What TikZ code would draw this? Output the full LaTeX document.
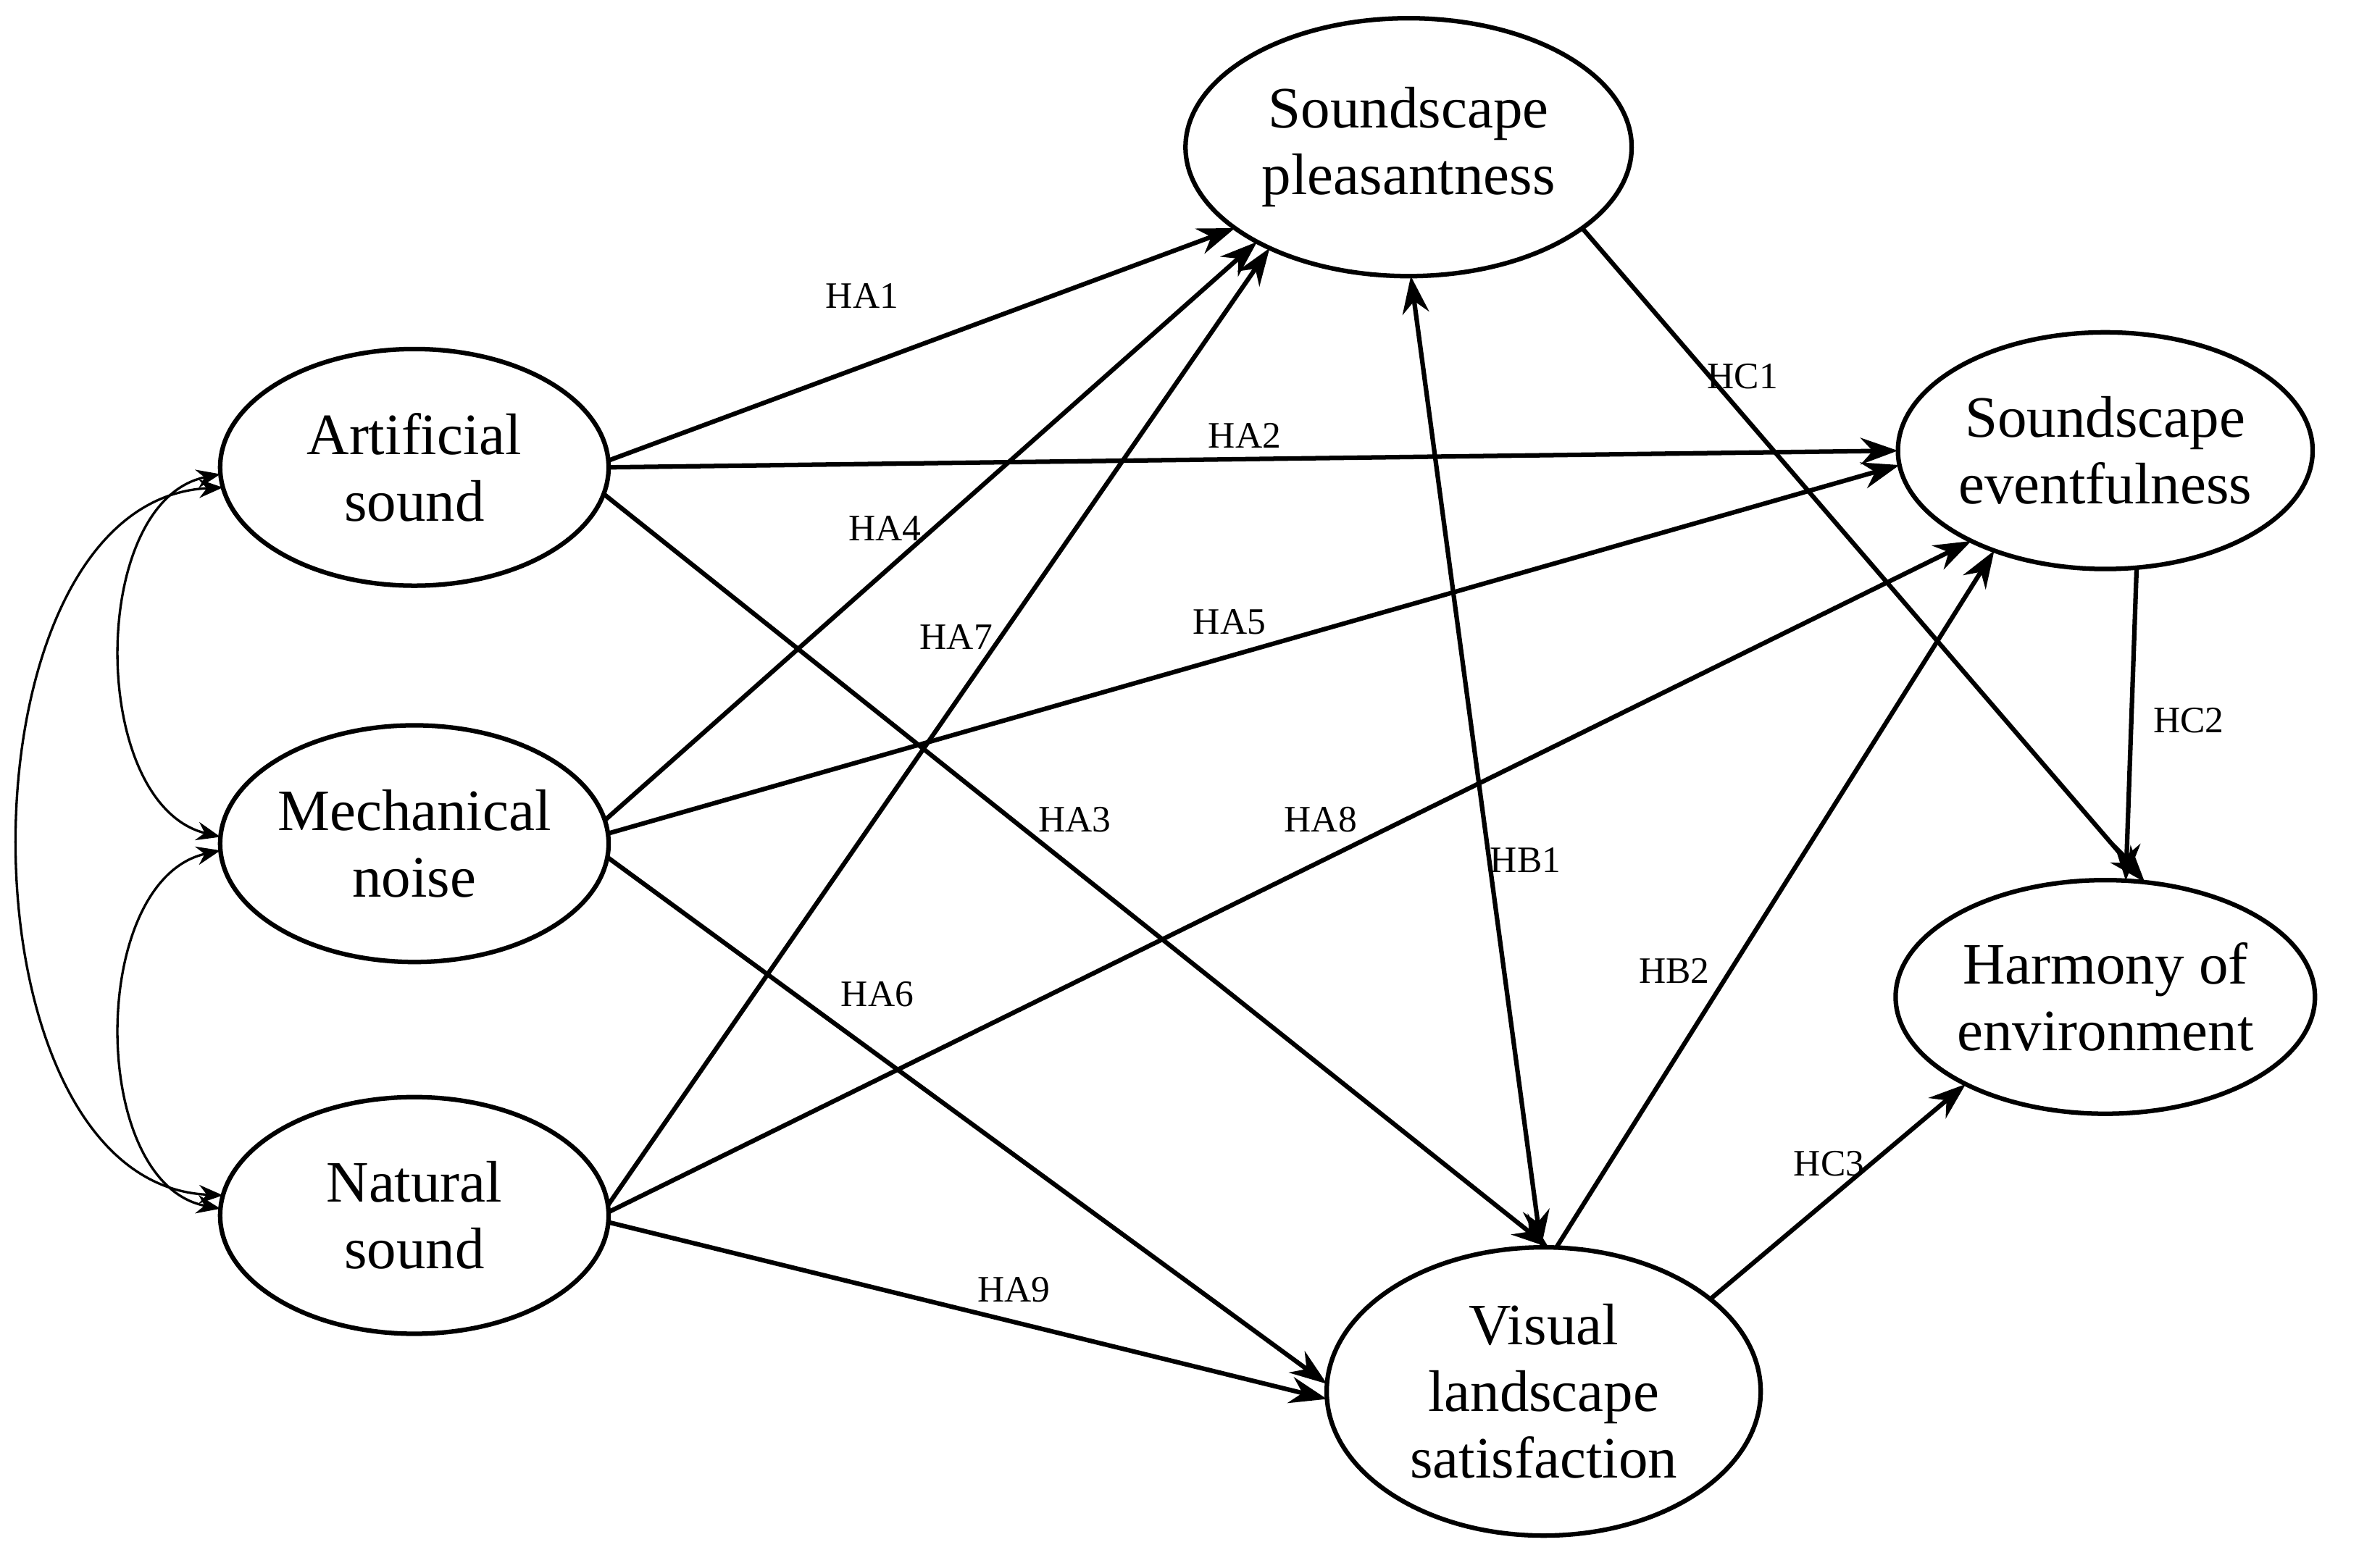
\documentclass[tikz,border=0pt]{standalone}
\usepackage{fontspec}
\setmainfont{Liberation Serif}
\usetikzlibrary{shapes.geometric,arrows.meta}
\begin{document}
\begin{tikzpicture}[x=0.02cm,y=-0.02cm,
  el/.style={ellipse,draw,line width=1.7pt,inner sep=0pt,outer sep=0pt,align=center,font=\fontsize{22}{25}\selectfont},
  ar/.style={line width=1.7pt,-{Stealth[length=14pt,width=10pt]}},
  cv/.style={line width=0.9pt,{Stealth[length=9pt,width=7pt]}-{Stealth[length=9pt,width=7pt]}},
  lb/.style={font=\fontsize{14}{16}\selectfont}]
\useasboundingbox (0,0) rectangle (1568,1016);
\node[el,minimum width=5.88cm,minimum height=3.4cm] (sp) at (928,97) {Soundscape\\pleasantness};
\node[el,minimum width=5.12cm,minimum height=3.12cm] (se) at (1387,297) {Soundscape\\eventfulness};
\node[el,minimum width=5.08cm,minimum height=3.08cm] (he) at (1387,657) {Harmony of\\environment};
\node[el,minimum width=5.72cm,minimum height=3.8cm] (vl) at (1017,917) {Visual\\landscape\\satisfaction};
\node[el,minimum width=5.12cm,minimum height=3.12cm] (as) at (273,308) {Artificial\\sound};
\node[el,minimum width=5.12cm,minimum height=3.12cm] (mn) at (273,556) {Mechanical\\noise};
\node[el,minimum width=5.12cm,minimum height=3.12cm] (ns) at (273,801) {Natural\\sound};

\draw[ar] (as.2) -- (sp.205);
\draw[ar] (as.0) -- (se.180);
\draw[ar] (as.-8) -- (vl.88);
\draw[ar] (mn.7) -- (sp.212);
\draw[ar] (mn.3) -- (se.184);
\draw[ar] (mn.-4) -- (vl.178);
\draw[ar] (ns.3) -- (sp.216);
\draw[ar] (ns.1) -- (se.214);
\draw[ar] (ns.-2) -- (vl.182);
\draw[line width=1.7pt,{Stealth[length=14pt,width=10pt]}-{Stealth[length=14pt,width=10pt]}] (sp.-89) -- (vl.91);
\draw[ar] (vl.85) -- (se.222);
\draw[ar] (sp.-25) -- (he.71);
\draw[ar] (se.-75) -- (he.80);
\draw[ar] (vl.29) -- (he.212);

\draw[cv] (as.182) .. controls (58,330) and (58,530) .. (mn.178);
\draw[cv] (mn.182) .. controls (58,580) and (58,780) .. (ns.178);
\draw[cv] (as.186) .. controls (-32,330) and (-32,780) .. (ns.174);

\node[lb] (l1) at (568,195) {HA1};
\node[lb] (l2) at (820,287) {HA2};
\node[lb] (l3) at (708,540) {HA3};
\node[lb] (l4) at (583,348) {HA4};
\node[lb] (l5) at (810,410) {HA5};
\node[lb] (l6) at (578,655) {HA6};
\node[lb] (l7) at (630,420) {HA7};
\node[lb] (l8) at (870,540) {HA8};
\node[lb] (l9) at (668,850) {HA9};
\node[lb] (b1) at (1005,567) {HB1};
\node[lb] (b2) at (1103,640) {HB2};
\node[lb] (c1) at (1148,248) {HC1};
\node[lb] (c2) at (1442,475) {HC2};
\node[lb] (c3) at (1205,767) {HC3};
\end{tikzpicture}
\end{document}
